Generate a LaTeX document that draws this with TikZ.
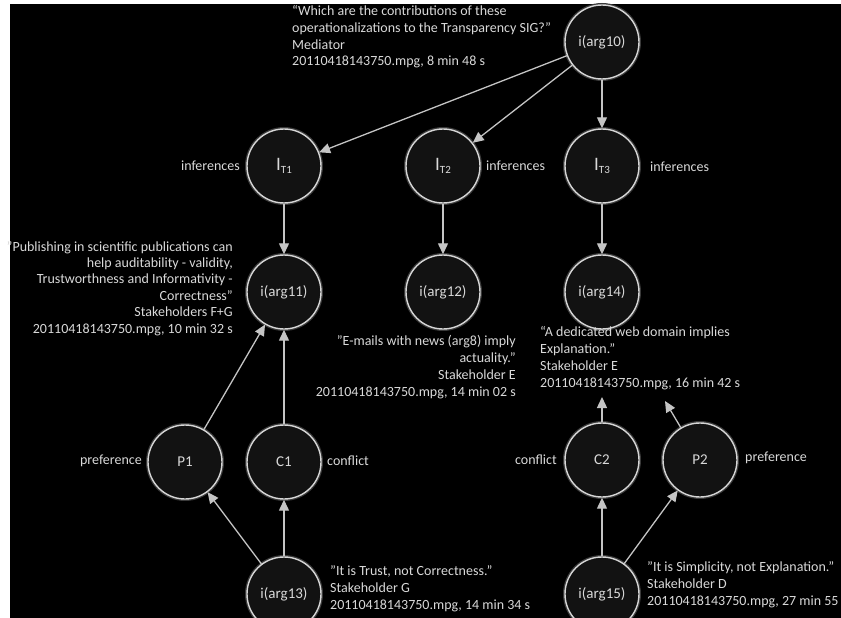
\documentclass[tikz,border=0pt]{standalone}
\usepackage{fontspec}
\setmainfont{Carlito}
\usetikzlibrary{arrows.meta}
\definecolor{txt}{HTML}{D9D9D9}
\definecolor{ln}{HTML}{C4C4C4}
\definecolor{cfill}{HTML}{121212}
\definecolor{cdraw}{HTML}{D6D6D6}
\definecolor{glow}{HTML}{3A3A3A}
\newcommand{\ITsub}[1]{{\fontsize{19}{19}\selectfont I}\raisebox{-3pt}{\fontsize{11}{11}\selectfont T#1}}
\begin{document}
\begin{tikzpicture}[x=1pt,y=-1pt,
  circ/.style={circle,draw=cdraw,line width=1.4pt,fill=cfill,minimum size=74pt,inner sep=0pt,
    text=txt,font=\fontsize{15}{15}\selectfont,preaction={draw=glow,line width=4pt}},
  arr/.style={draw=ln,line width=1.3pt,-{Triangle[length=11pt,width=10pt,fill=ln]}},
  lbl/.style={text=txt,font=\fontsize{14}{16.7}\selectfont,inner sep=0pt},
]
\useasboundingbox (0,0) rectangle (841,618);
\fill[white] (0,0) rectangle (841,618);
\fill[black] (10,4) rectangle (841,618);

% circle nodes
\node[circ] (a10) at (602,42) {i(arg10)};
\node[circ] (t1) at (284,166) {\ITsub{1}};
\node[circ] (t2) at (443,166) {\ITsub{2}};
\node[circ] (t3) at (602,166) {\ITsub{3}};
\node[circ] (a11) at (284,292) {i(arg11)};
\node[circ] (a12) at (443,292) {i(arg12)};
\node[circ] (a14) at (602,292) {i(arg14)};
\node[circ] (p1) at (185,462) {P1};
\node[circ] (c1) at (284,462) {C1};
\node[circ] (c2) at (602,460) {C2};
\node[circ] (p2) at (700,460) {P2};
\node[circ] (a13) at (284,594) {i(arg13)};
\node[circ] (a15) at (602,594) {i(arg15)};

% labels
\node[lbl,anchor=east] (l1) at (240,166) {inferences};
\node[lbl,anchor=west] (l2) at (486,166) {inferences};
\node[lbl,anchor=west] (l3) at (650,167) {inferences};
\node[lbl,anchor=east] (l4) at (142,461) {preference};
\node[lbl,anchor=west] (l5) at (327,461) {conflict};
\node[lbl,anchor=east] (l6) at (557,460) {conflict};
\node[lbl,anchor=west] (l7) at (745,458) {preference};

% quotes (base anchor = baseline of the last line)
\node[lbl,anchor=base west,align=left] (q10) at (292,66)
  {“Which are the contributions of these\\operationalizations to the Transparency SIG?”\\Mediator\\20110418143750.mpg, 8 min 48 s};
\node[lbl,anchor=base east,align=right,font=\fontsize{14}{16.4}\selectfont] (q11) at (233,333)
  {"Publishing in scientific publications can\\help auditability - validity,\\Trustworthness and Informativity -\\Correctness"\\Stakeholders F+G\\20110418143750.mpg, 10 min 32 s};
\node[lbl,anchor=base east,align=right] (q12) at (516,396)
  {"E-mails with news (arg8) imply\\actuality.”\\Stakeholder E\\20110418143750.mpg, 14 min 02 s};
\node[lbl,anchor=base west,align=left] (q14) at (540,387)
  {“A dedicated web domain implies\\Explanation.”\\Stakeholder E\\20110418143750.mpg, 16 min 42 s};
\node[lbl,anchor=base west,align=left,font=\fontsize{14}{17}\selectfont] (q13) at (330,609)
  {"It is Trust, not Correctness.”\\Stakeholder G\\20110418143750.mpg, 14 min 34 s};
\node[lbl,anchor=base west,align=left,font=\fontsize{14}{17}\selectfont] (q15) at (647,605)
  {"It is Simplicity, not Explanation."\\Stakeholder D\\20110418143750.mpg, 27 min 55 s};

\coordinate (c2t) at (602,397);
\coordinate (p2t) at (665,401);

% connectors
\draw[arr] (a10) -- (t1);
\draw[arr] (a10) -- (t2);
\draw[arr] (a10) -- (t3);
\draw[arr] (t1) -- (a11);
\draw[arr] (t2) -- (a12);
\draw[arr] (t3) -- (a14);
\draw[arr] (p1) -- (a11);
\draw[arr] (c1) -- (a11);
\draw[arr] (a13) -- (p1);
\draw[arr] (a13) -- (c1);
\draw[arr] (a15) -- (c2);
\draw[arr] (a15) -- (p2);
\draw[arr] (c2) -- (c2t);
\draw[arr] (p2) -- (p2t);
\end{tikzpicture}
\end{document}
